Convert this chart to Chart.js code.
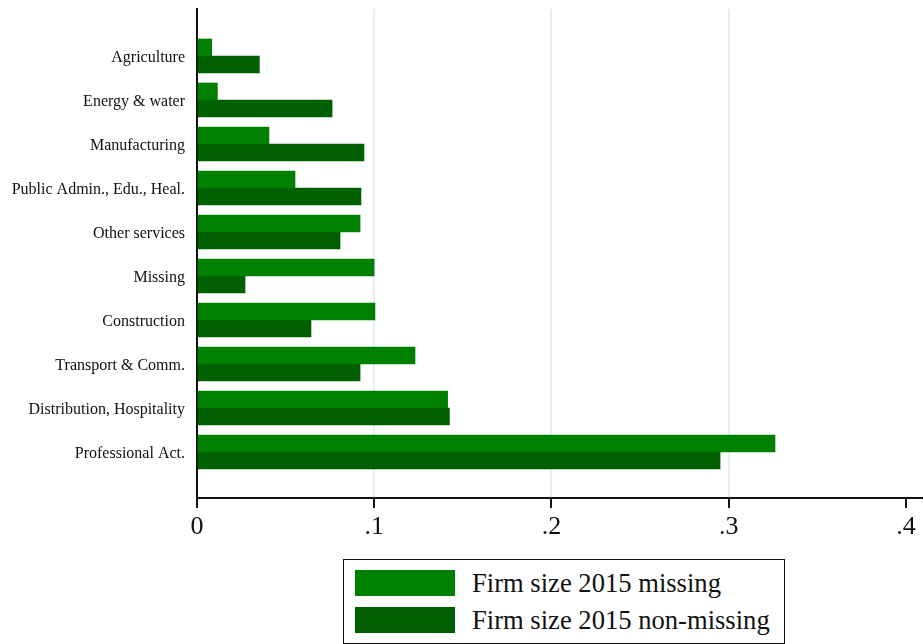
<!DOCTYPE html>
<html>
<head>
<meta charset="utf-8">
<script src="https://cdn.jsdelivr.net/npm/chart.js@4.4.0/dist/chart.umd.min.js"></script>
<style>
  html, body { margin: 0; padding: 0; background: #fff; overflow: hidden; }
  #wrap { position: relative; width: 923px; height: 644px; }
  #legend {
    position: absolute; left: 343px; top: 559px; width: 442px; height: 85px;
    border: 1.5px solid #111; box-sizing: border-box; background: #fff;
    font-family: 'Liberation Serif', 'Times New Roman', serif; font-size: 26.6px; color: #111;
  }
  .item { position: absolute; left: 11px; height: 26px; display: flex; align-items: center; }
  .sw { width: 100px; height: 26px; margin-right: 17px; flex: none; }
  .lbl { white-space: nowrap; line-height: 26px; }
</style>
</head>
<body>
<div id="wrap">
  <canvas id="c" width="923" height="644"></canvas>
  <div id="legend"></div>
</div>
<script>
const categories = [
  'Agriculture',
  'Energy & water',
  'Manufacturing',
  'Public Admin., Edu., Heal.',
  'Other services',
  'Missing',
  'Construction',
  'Transport & Comm.',
  'Distribution, Hospitality',
  'Professional Act.'
];
const seriesNames = ['Firm size 2015 missing', 'Firm size 2015 non-missing'];
const missingValues    = [0.0083, 0.0115, 0.0406, 0.0553, 0.0920, 0.0999, 0.1004, 0.1230, 0.1414, 0.3261];
const nonMissingValues = [0.0352, 0.0762, 0.0942, 0.0925, 0.0807, 0.0271, 0.0643, 0.0920, 0.1424, 0.2951];
const xTickValues = [0, 0.1, 0.2, 0.3, 0.4];
const xTickLabels = ['0', '.1', '.2', '.3', '.4'];
const seriesColors = ['#008000', '#006000'];

Chart.defaults.font.family = "'Liberation Serif', 'Times New Roman', serif";
Chart.defaults.color = '#111';

const toPoints = (vals) => vals.map((v, i) => ({ x: v, y: i }));

const chart = new Chart(document.getElementById('c'), {
  type: 'bar',
  data: {
    datasets: [
      { label: seriesNames[0], data: toPoints(missingValues), backgroundColor: seriesColors[0], borderWidth: 0, barThickness: 17 },
      { label: seriesNames[1], data: toPoints(nonMissingValues), backgroundColor: seriesColors[1], borderWidth: 0, barThickness: 17 }
    ]
  },
  options: {
    indexAxis: 'y',
    responsive: false,
    animation: false,
    layout: { padding: { top: 9, left: 0, right: 0, bottom: 0 } },
    plugins: { legend: { display: false }, tooltip: { enabled: false } },
    scales: {
      y: {
        type: 'linear',
        reverse: true,
        offset: false,
        min: -1.068,
        max: 10.045,
        afterBuildTicks: (s) => { s.ticks = categories.map((_, i) => ({ value: i })); },
        afterFit: (s) => { s.width = 197; s.paddingTop = 0; s.paddingBottom = 0; },
        ticks: {
          callback: (v) => categories[v] !== undefined ? categories[v] : '',
          font: { size: 16 },
          color: '#111',
          padding: 12,
          labelOffset: 2,
          autoSkip: false
        },
        grid: { display: false, drawTicks: false },
        border: { display: true, color: '#111', width: 2 }
      },
      x: {
        type: 'linear',
        min: 0,
        max: 0.4096,
        afterBuildTicks: (s) => { s.ticks = xTickValues.map(v => ({ value: v })); },
        afterFit: (s) => { s.height = 644 - 498; s.paddingLeft = 0; s.paddingRight = 0; },
        ticks: {
          callback: (v, i) => xTickLabels[i],
          font: { size: 26 },
          color: '#111',
          padding: 4,
          maxRotation: 0,
          autoSkip: false
        },
        grid: {
          drawOnChartArea: true,
          color: (ctx) => (ctx.tick && ctx.tick.value > 0.001 && ctx.tick.value < 0.399) ? '#e6eff2' : 'rgba(0,0,0,0)',
          lineWidth: 2,
          tickColor: '#111',
          tickWidth: 2,
          tickLength: 10
        },
        border: { display: true, color: '#111', width: 2 }
      }
    }
  }
});

const legend = document.getElementById('legend');
chart.data.datasets.forEach((ds, i) => {
  const item = document.createElement('div');
  item.className = 'item';
  item.style.top = (10 + i * 37) + 'px';
  const sw = document.createElement('div');
  sw.className = 'sw';
  sw.style.background = ds.backgroundColor;
  const lbl = document.createElement('span');
  lbl.className = 'lbl';
  lbl.textContent = ds.label;
  item.appendChild(sw);
  item.appendChild(lbl);
  legend.appendChild(item);
});
</script>
</body>
</html>
